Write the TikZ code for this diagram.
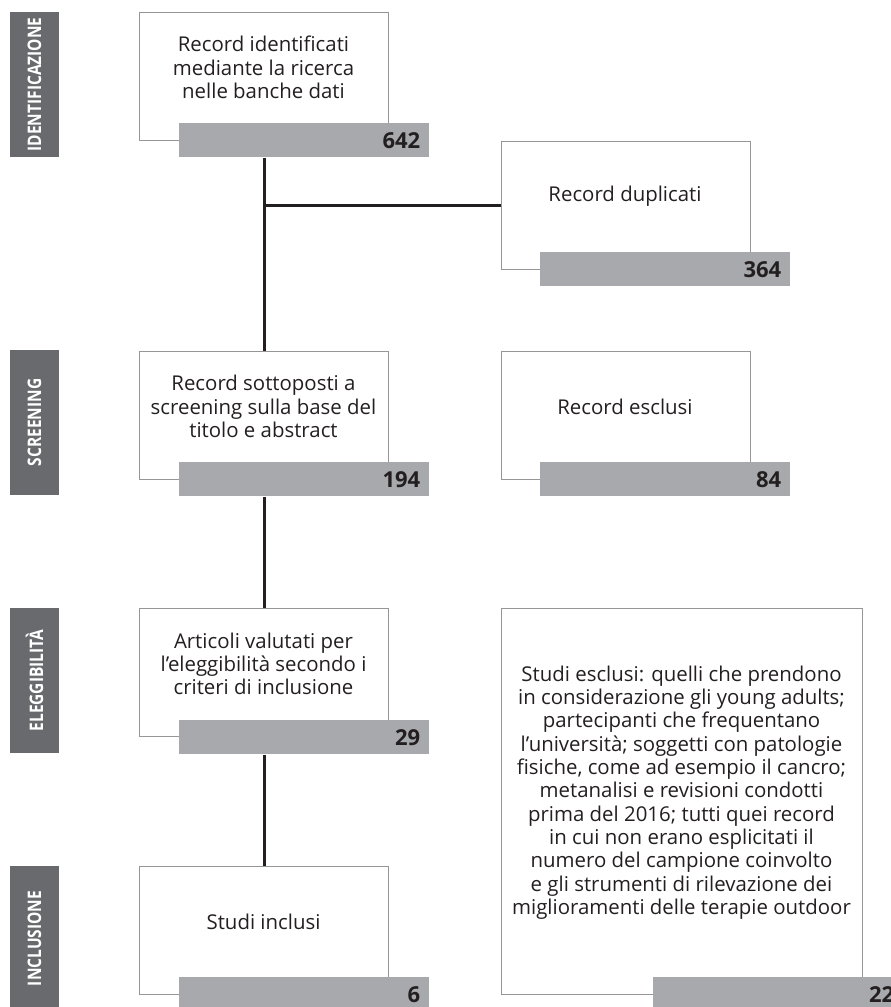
\documentclass[tikz,border=0pt]{standalone}
\usepackage{fontspec}
\setmainfont{Open Sans}
\newfontfamily\phasefont[FakeStretch=0.83]{Open Sans}
\usepackage{tikz}
\usetikzlibrary{calc,positioning}
\definecolor{phasegray}{HTML}{696A6E}
\definecolor{bargray}{HTML}{A7A9AC}
\definecolor{framegray}{HTML}{969696}
\definecolor{inkblack}{HTML}{231F20}
\tikzset{
    mybox/.style={draw=framegray,line width=0.8pt,anchor=north west,inner sep=0pt,
                  minimum width=186.75pt,minimum height=96pt},
    mywidebox/.style={mybox,minimum width=270.75pt,minimum height=289.5pt},
    mybar/.style={fill=bargray,anchor=north west,inner xsep=6.75pt,inner ysep=0pt,
                  minimum height=25.5pt,text width=174pt,align=right,text=inkblack,
                  font=\bfseries\fontsize{16.5}{16.5}\selectfont},
    mytext/.style={align=center,text=inkblack,inner sep=0pt,
                   font=\fontsize{15.3}{17.5}\selectfont},
    myphase/.style={fill=phasegray,rotate=90,inner sep=0pt,minimum width=108.75pt,
                    minimum height=36.75pt,text=white,
                    font=\phasefont\bfseries\fontsize{14}{14}\selectfont},
    myline/.style={line width=2.25pt,draw=inkblack}
}

\begin{document}
\begin{tikzpicture}[x=0.75pt,y=-0.75pt]
  \useasboundingbox (0,0) rectangle (891,1007);
  \clip (0,0) rectangle (891,1007);

  % fasi
  \foreach \nm/\yy/\lab in {phid/84.5/IDENTIFICAZIONE,phscr/422.5/SCREENING,
                            phel/680.5/ELEGGIBILITÀ,phinc/938.5/INCLUSIONE}{
    \node[myphase] (\nm) at (34.5,\yy) {\lab};
  }

  % riquadri
  \node[mybox] (idbox) at (139,12) {};
  \node[mybox] (dupbox) at (501,141) {};
  \node[mybox] (scrbox) at (139,351) {};
  \node[mybox] (exbox) at (501,351) {};
  \node[mybox] (elbox) at (139,608) {};
  \node[mybox] (incbox) at (139,866) {};
  \node[mywidebox] (motbox) at (501,608) {};

  % barre con i conteggi
  \node[mybar] (idbar) at (179,123) {642};
  \node[mybar] (dupbar) at (540,252) {364};
  \node[mybar] (scrbar) at (179,462) {194};
  \node[mybar] (exbar) at (540,462) {84};
  \node[mybar] (elbar) at (179,720) {29};
  \node[mybar] (incbar) at (179,977) {6};
  \node[mybar] (motbar) at (653,977) {22};

  % testi
  \node[mytext] (idtext) at (263.5,67.5)
    {Record identificati\\mediante la ricerca\\nelle banche dati};
  \node[mytext] (duptext) at (625,196.5) {Record duplicati};
  \node[mytext] (scrtext) at (263.5,406.5)
    {Record sottoposti a\\screening sulla base del\\titolo e abstract};
  \node[mytext] (extext) at (625,406.5) {Record esclusi};
  \node[mytext] (eltext) at (263.5,664)
    {Articoli valutati per\\l’eleggibilità secondo i\\criteri di inclusione};
  \node[mytext] (inctext) at (263.5,921.5) {Studi inclusi};
  \node[mytext] (mottext) at (681.5,792.5)
    {Studi esclusi: quelli che prendono\\in considerazione gli young adults;\\
     partecipanti che frequentano\\l’università; soggetti con patologie\\
     fisiche, come ad esempio il cancro;\\metanalisi e revisioni condotti\\
     prima del 2016; tutti quei record\\in cui non erano esplicitati il\\
     numero del campione coinvolto\\e gli strumenti di rilevazione dei\\
     miglioramenti delle terapie outdoor};

  % collegamenti
  \draw[myline] (idbar.south -| idbox.south) -- (scrbox.north);
  \draw[myline] (dupbox.west -| idbox.south) -- (dupbox.west);
  \draw[myline] (scrbar.south -| scrbox.south) -- (elbox.north);
  \draw[myline] (elbar.south -| elbox.south) -- (incbox.north);
\end{tikzpicture}
\end{document}
